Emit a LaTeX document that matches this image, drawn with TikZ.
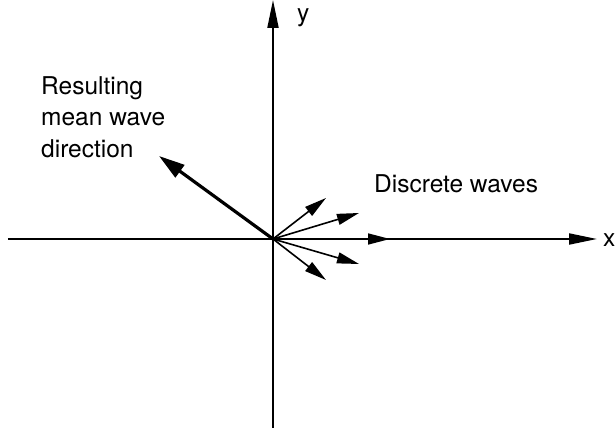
\documentclass[tikz,border=0pt]{standalone}
\usepackage{fontspec}
\setmainfont{TeX Gyre Heros}
\usetikzlibrary{arrows.meta}

\begin{document}
\begin{tikzpicture}[x=1pt,y=1pt,font=\fontsize{24.5}{31.5}\selectfont,
  axis/.style={line width=2pt,-{Triangle[length=28pt,width=11pt]}},
  wave/.style={line width=1.6pt,-{Triangle[length=22pt,width=11pt]}},
  lbl/.style={inner sep=0pt}]
\useasboundingbox (-273,-194) rectangle (343,239);
% axes
\coordinate (O) at (0,0);
\coordinate (xl) at (-265,0);
\coordinate (xr) at (324,0);
\coordinate (yb) at (0,-189);
\coordinate (yt) at (0,239);
\draw[axis] (xl) -- (xr);
\draw[axis] (yb) -- (yt);
\node[lbl,anchor=base west] (xlab) at (330,-8) {x};
\node[lbl,anchor=base west] (ylab) at (24,217) {y};
% discrete waves
\foreach \n/\p in {1/{53,41},2/{86,26},3/{117,0},4/{86,-25},5/{53,-41}}{
  \coordinate (w\n) at (\p);
  \draw[wave] (O) -- (w\n);}
\node[lbl,anchor=base west] (disc) at (101,46) {Discrete waves};
% mean direction
\coordinate (mean) at (-114,83);
\draw[line width=3.2pt,-{Triangle[length=26pt,width=15pt]}] (O) -- (mean);
\node[lbl,anchor=north west,align=left] (res) at (-232,163) {Resulting\\mean wave\\direction};
\end{tikzpicture}
\end{document}
